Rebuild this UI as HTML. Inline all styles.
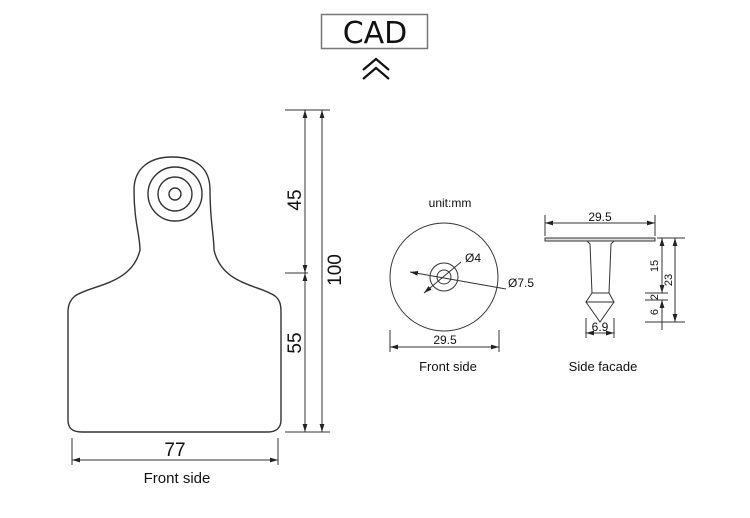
<!DOCTYPE html>
<html><head><meta charset="utf-8"><style>
html,body{margin:0;padding:0;background:#fff;width:750px;height:518px;overflow:hidden}
svg{display:block}
text{font-family:"Liberation Sans",Arial,sans-serif;fill:#111}
</style></head><body>
<svg width="750" height="518" viewBox="0 0 750 518" xmlns="http://www.w3.org/2000/svg">
<defs>
<marker id="a" viewBox="0 0 10 6" refX="10" refY="3" markerWidth="8" markerHeight="5" orient="auto-start-reverse" markerUnits="userSpaceOnUse"><path d="M0,0 L10,3 L0,6 z" fill="#222"/></marker>
</defs>
<rect x="321.5" y="14.5" width="106" height="34" fill="none" stroke="#777" stroke-width="1.5"/>
<text x="375" y="43" font-size="30" text-anchor="middle" style="font-family:'DejaVu Sans',sans-serif">CAD</text>
<path d="M363,70 L376,59 L389,70 M363,79 L376,68 L389,79" fill="none" stroke="#111" stroke-width="2.2"/>

<!-- tag -->
<g fill="none" stroke="#333" stroke-width="1.4">
<path d="M140,250 C140,235 134,222 134,190 C134,168 150,157 172,157 C196,157 210,168 210,190 C210,222 214,235 214,250 C222,285 260,285 275,296 C280,300 281,305 281,312 L281,420 C281,428 276,432 268,432 L82,432 C72,432 68,428 68,420 L68,312 C68,305 70,300 75,296 C90,285 132,285 140,250 Z"/>
<circle cx="175" cy="194" r="27"/>
<circle cx="175" cy="194" r="17"/>
<circle cx="175" cy="194" r="6"/>
</g>
<g stroke="#333" stroke-width="1" fill="none">
<line x1="285" y1="110" x2="330" y2="110"/>
<line x1="285" y1="273" x2="308" y2="273"/>
<line x1="285" y1="432" x2="330" y2="432"/>
<line x1="305" y1="110" x2="305" y2="273" marker-start="url(#a)" marker-end="url(#a)"/>
<line x1="305" y1="273" x2="305" y2="432" marker-start="url(#a)" marker-end="url(#a)"/>
<line x1="322" y1="110" x2="322" y2="432" marker-start="url(#a)" marker-end="url(#a)"/>
<line x1="72" y1="438" x2="72" y2="465"/>
<line x1="278" y1="438" x2="278" y2="465"/>
<line x1="72" y1="460" x2="278" y2="460" marker-start="url(#a)" marker-end="url(#a)"/>
</g>
<text transform="translate(301,200) rotate(-90)" font-size="19" text-anchor="middle">45</text>
<text transform="translate(301,343) rotate(-90)" font-size="19" text-anchor="middle">55</text>
<text transform="translate(341,270) rotate(-90)" font-size="19" text-anchor="middle">100</text>
<text x="175" y="456" font-size="19" text-anchor="middle">77</text>
<text x="177" y="483" font-size="15" text-anchor="middle">Front side</text>

<!-- front disc -->
<text x="450" y="207" font-size="12" text-anchor="middle">unit:mm</text>
<g stroke="#333" stroke-width="1" fill="none">
<circle cx="444" cy="277" r="54"/>
<circle cx="444" cy="277" r="14"/>
<circle cx="444" cy="277" r="7"/>
<line x1="424" y1="293" x2="461" y2="262" marker-start="url(#a)"/>
<line x1="410" y1="272" x2="506" y2="289" marker-start="url(#a)"/>
<line x1="390" y1="330" x2="390" y2="352"/>
<line x1="499" y1="330" x2="499" y2="352"/>
<line x1="390" y1="347" x2="499" y2="347" marker-start="url(#a)" marker-end="url(#a)"/>
</g>
<text x="465" y="262" font-size="12">Ø4</text>
<text x="508" y="287" font-size="12">Ø7.5</text>
<text x="445" y="344" font-size="12" text-anchor="middle">29.5</text>
<text x="448" y="371" font-size="13" text-anchor="middle">Front side</text>

<!-- side -->
<g stroke="#333" stroke-width="1" fill="none">
<rect x="545" y="238" width="110" height="3" fill="#ddd"/>
<path d="M587,241 L614,241 L611,244 L609,293 L592,293 L590,244 Z"/>
<path d="M592,293 L609,293 L614,302 L586,302 Z"/>
<path d="M586,302 L600,322 L614,302"/>
<line x1="545" y1="215" x2="545" y2="236"/>
<line x1="655" y1="215" x2="655" y2="236"/>
<line x1="545" y1="223" x2="655" y2="223" marker-start="url(#a)" marker-end="url(#a)"/>
<line x1="586" y1="318" x2="586" y2="338"/>
<line x1="614" y1="318" x2="614" y2="338"/>
<line x1="586" y1="333" x2="614" y2="333" marker-start="url(#a)" marker-end="url(#a)"/>
<line x1="657" y1="238" x2="685" y2="238"/>
<line x1="645" y1="293" x2="668" y2="293"/>
<line x1="645" y1="300" x2="668" y2="300"/>
<line x1="645" y1="322" x2="685" y2="322"/>
<line x1="662" y1="238" x2="662" y2="293" marker-start="url(#a)" marker-end="url(#a)"/>
<line x1="662" y1="300" x2="662" y2="322" marker-start="url(#a)"/>
<line x1="662" y1="322" x2="662" y2="330"/>
<line x1="675" y1="238" x2="675" y2="322" marker-start="url(#a)" marker-end="url(#a)"/>
</g>
<text x="600" y="221" font-size="12" text-anchor="middle">29.5</text>
<text x="600" y="331" font-size="12" text-anchor="middle">6.9</text>
<text transform="translate(658,266) rotate(-90)" font-size="11" text-anchor="middle">15</text>
<text transform="translate(658,297) rotate(-90)" font-size="11" text-anchor="middle">2</text>
<text transform="translate(658,312) rotate(-90)" font-size="11" text-anchor="middle">6</text>
<text transform="translate(672,280) rotate(-90)" font-size="11" text-anchor="middle">23</text>
<text x="603" y="371" font-size="13" text-anchor="middle">Side  facade</text>
</svg>
</body></html>
